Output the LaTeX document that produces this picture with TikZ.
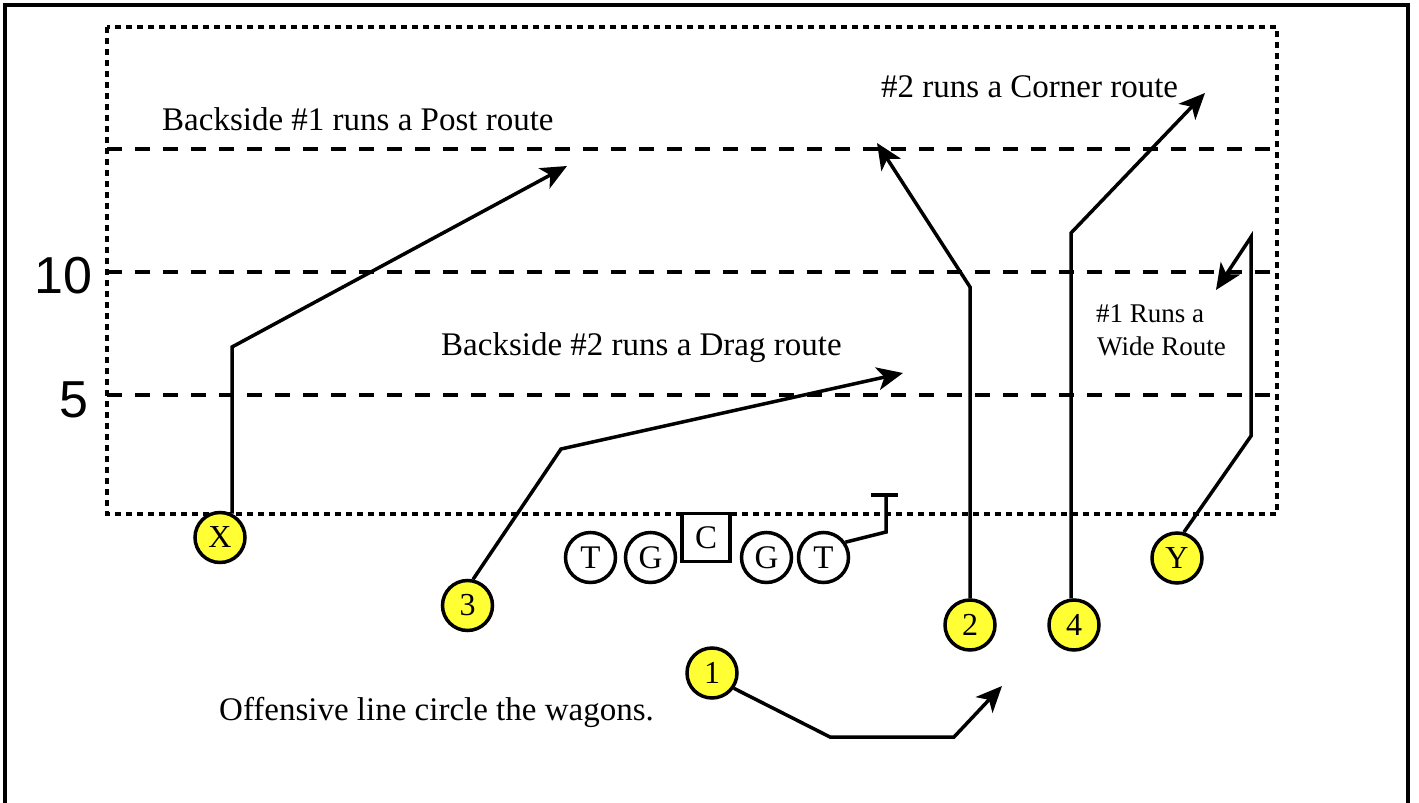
\documentclass[tikz,border=0pt]{standalone}
\usepackage{fontspec}
\setmainfont{Liberation Serif}
\newfontfamily\yardfont{Liberation Sans}
\usetikzlibrary{arrows.meta}
\definecolor{playeryellow}{RGB}{255,255,51}
\begin{document}
\begin{tikzpicture}[x=1pt,y=-1pt,
  frameline/.style={line width=3.5pt},
  route/.style={line width=3.5pt, line join=miter, -{Stealth[length=26pt,width=23pt,inset=7pt]}},
  blockline/.style={line width=3.5pt, line join=miter},
  yardline/.style={line width=3.5pt, dash pattern=on 15pt off 13pt},
  fieldbox/.style={line width=3.5pt, dash pattern=on 6pt off 5pt},
  player/.style={circle, draw, line width=3.5pt, fill=playeryellow, minimum size=50pt, inner sep=0pt, font=\fontsize{32}{38}\selectfont},
  lineman/.style={circle, draw, line width=3.5pt, fill=white, minimum size=50pt, inner sep=0pt, font=\fontsize{33}{38}\selectfont},
  centerbox/.style={rectangle, draw, line width=3.5pt, fill=white, minimum size=48pt, inner sep=0pt, font=\fontsize{33}{38}\selectfont},
  note/.style={inner sep=0pt, anchor=base west, font=\fontsize{33}{40}\selectfont},
  smallnote/.style={inner sep=0pt, anchor=base west, font=\fontsize{27}{33}\selectfont},
  yardnum/.style={inner sep=0pt, anchor=base east, font=\yardfont\fontsize{52}{60}\selectfont}]
\useasboundingbox (0,0) rectangle (1419,803);
% outer frame
\draw[frameline] (5,815) -- (5,5) -- (1408,5) -- (1408,815);
% field
\draw[fieldbox] (107,27) rectangle (1277,514);
\draw[yardline] (107,149) -- (1277,149);
\draw[yardline] (107,272) -- (1277,272);
\draw[yardline] (107,395) -- (1277,395);
\node[yardnum] (ten) at (93,293) {10};
\node[yardnum] (five) at (89,417) {5};
% texts
\node[note] (postnote) at (162,130) {Backside \#1 runs a Post route};
\node[note] (cornernote) at (881,97) {\#2 runs a Corner route};
\node[note] (dragnote) at (441,355) {Backside \#2 runs a Drag route};
\node[smallnote] (widenote1) at (1096,322) {\#1 Runs a};
\node[smallnote] (widenote2) at (1097,355) {Wide Route};
\node[note] (olnote) at (219,720) {Offensive line circle the wagons.};
% offensive line
\node[lineman] (T1) at (590.5,557.5) {T};
\node[lineman] (G1) at (650.5,557.5) {G};
\node[centerbox] (C) at (706,537.5) {C};
\node[lineman] (G2) at (766.5,557.5) {G};
\node[lineman] (T2) at (823.5,557.5) {T};
% skill players
\node[player] (X) at (220,537.5) {X};
\node[player] (n3) at (467.5,605.5) {3};
\node[player] (n1) at (712,673) {1};
\node[player] (n2) at (970,625) {2};
\node[player] (n4) at (1074,625) {4};
\node[player] (Y) at (1177,558) {Y};
% route points
\coordinate (xb) at (232,347);
\coordinate (xt) at (567,166);
\coordinate (b3) at (561,449);
\coordinate (t3) at (903,373);
\coordinate (b2) at (970,287);
\coordinate (t2) at (877,143);
\coordinate (b4) at (1071,233);
\coordinate (t4) at (1205,93);
\coordinate (yb1) at (1251,436);
\coordinate (yb2) at (1251,237);
\coordinate (yt) at (1216,290);
\coordinate (b1a) at (830,737);
\coordinate (b1b) at (954,737);
\coordinate (t1) at (1002,686);
\coordinate (tb1) at (886,532);
\coordinate (tb2) at (886,495);
\coordinate (tbl) at (871,495);
\coordinate (tbr) at (898,495);
% routes
\draw[route] (X.63) -- (xb) -- (xt);
\draw[route] (n3.78) -- (b3) -- (t3);
\draw[route] (n2.north) -- (b2) -- (t2);
\draw[route] (n4.96) -- (b4) -- (t4);
\draw[route] (Y.75) -- (yb1) -- (yb2) -- (yt);
\draw[route] (n1.-35) -- (b1a) -- (b1b) -- (t1);
\draw[blockline] (T2.35) -- (tb1) -- (tb2);
\draw[blockline] (tbl) -- (tbr);
\end{tikzpicture}
\end{document}
